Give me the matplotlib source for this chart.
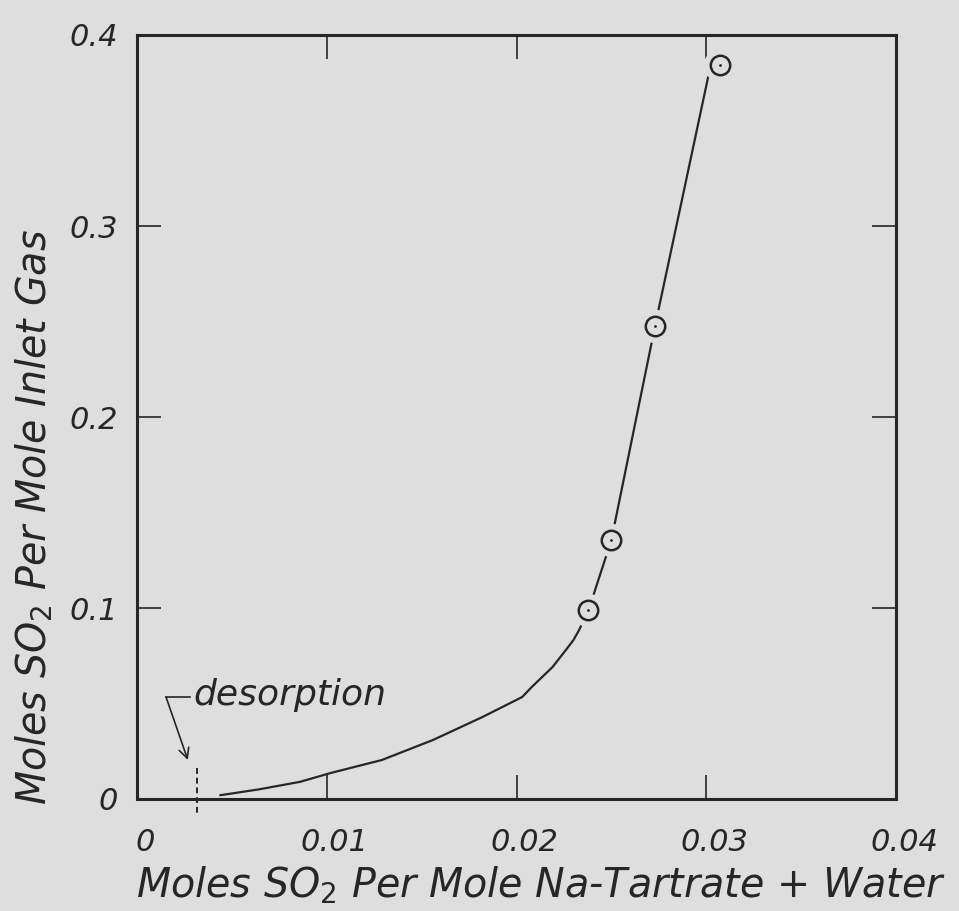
import matplotlib.pyplot as plt
from matplotlib.transforms import ScaledTranslation

# data
points_x = [0.02379, 0.0250, 0.02732, 0.03074]
points_y = [0.0990, 0.1356, 0.2476, 0.3843]

curve_x = [0.0044, 0.0064, 0.0086, 0.0102, 0.0129, 0.0156, 0.0182, 0.0203,
           0.0208, 0.0219, 0.0226, 0.0230, 0.0233, 0.0238, 0.0250, 0.0273, 0.0301]
curve_y = [0.002, 0.005, 0.009, 0.0136, 0.0204, 0.0309, 0.0429, 0.0534,
           0.0586, 0.0691, 0.078, 0.0832, 0.0885, 0.0990, 0.1356, 0.2476, 0.378]

desorption_x = 0.00316
desorption_y = [0.016, -0.0075]
arrow_start = (0.00153, 0.0534)
arrow_tip = (0.00268, 0.0204)
hook_x = [0.00153, 0.00279]
hook_y = [0.0534, 0.0534]

xticks = [0, 0.01, 0.02, 0.03, 0.04]
xtick_labels = ['0', '0.01', '0.02', '0.03', '0.04']
yticks = [0, 0.1, 0.2, 0.3, 0.4]
ytick_labels = ['0', '0.1', '0.2', '0.3', '0.4']

bg = '#dedede'
ink = '#262626'

plt.rcParams['font.family'] = ['DejaVu Sans']
plt.rcParams['mathtext.fontset'] = 'dejavusans'

fig = plt.figure(figsize=(9.59, 9.11), dpi=100, facecolor=bg)
ax = fig.add_axes([137/959, 1 - 799/911, (896-137)/959, (799-35)/911])
ax.set_facecolor(bg)

ax.set_xlim(0, 0.04)
ax.set_ylim(0, 0.4)

ax.plot(curve_x, curve_y, color=ink, lw=1.6, zorder=2)
# gaps in the line around the circles
ax.plot(points_x, points_y, 'o', ms=24, mfc=bg, mec='none', zorder=3)
ax.plot(points_x, points_y, 'o', ms=14, mfc=bg, mec=ink, mew=1.8, zorder=4)
ax.plot(points_x, points_y, '.', ms=2, color=ink, zorder=5)

ax.plot([desorption_x, desorption_x], desorption_y, color=ink, lw=1.4,
        linestyle=(0, (3, 2)), clip_on=False)
ax.plot(hook_x, hook_y, color=ink, lw=1.2)
ax.annotate('', xy=arrow_tip, xytext=arrow_start,
            arrowprops=dict(arrowstyle='->', color=ink, lw=1.2,
                            shrinkA=0, shrinkB=0, mutation_scale=18))
ax.text(0.00295, 0.0492, 'desorption', fontsize=26, style='italic',
        color=ink, va='baseline', ha='left')

for s in ax.spines.values():
    s.set_linewidth(2.2)
    s.set_color(ink)

ax.set_xticks(xticks)
ax.set_xticklabels(xtick_labels)
ax.set_yticks(yticks)
ax.set_yticklabels(ytick_labels)
ax.tick_params(direction='in', length=17, width=1.2, color=ink,
               top=True, right=True, labelsize=22, labelcolor=ink)
ax.tick_params(axis='x', pad=21)
ax.tick_params(axis='y', pad=14)
for lab in ax.get_xticklabels() + ax.get_yticklabels():
    lab.set_fontstyle('italic')
for lab in ax.get_xticklabels():
    lab.set_transform(lab.get_transform() + ScaledTranslation(8/100, 0, fig.dpi_scale_trans))

fig.text(541/959, 1 - 885/911, 'Moles SO$_2$ Per Mole Na-Tartrate + Water',
         fontsize=28.5, style='italic', color=ink, ha='center', va='center')
fig.text(34/959, 1 - 517/911, 'Moles SO$_2$ Per Mole Inlet Gas',
         fontsize=28.5, style='italic', color=ink, ha='center', va='center',
         rotation=90)

fig.savefig('out.png', dpi=100, facecolor=bg)
